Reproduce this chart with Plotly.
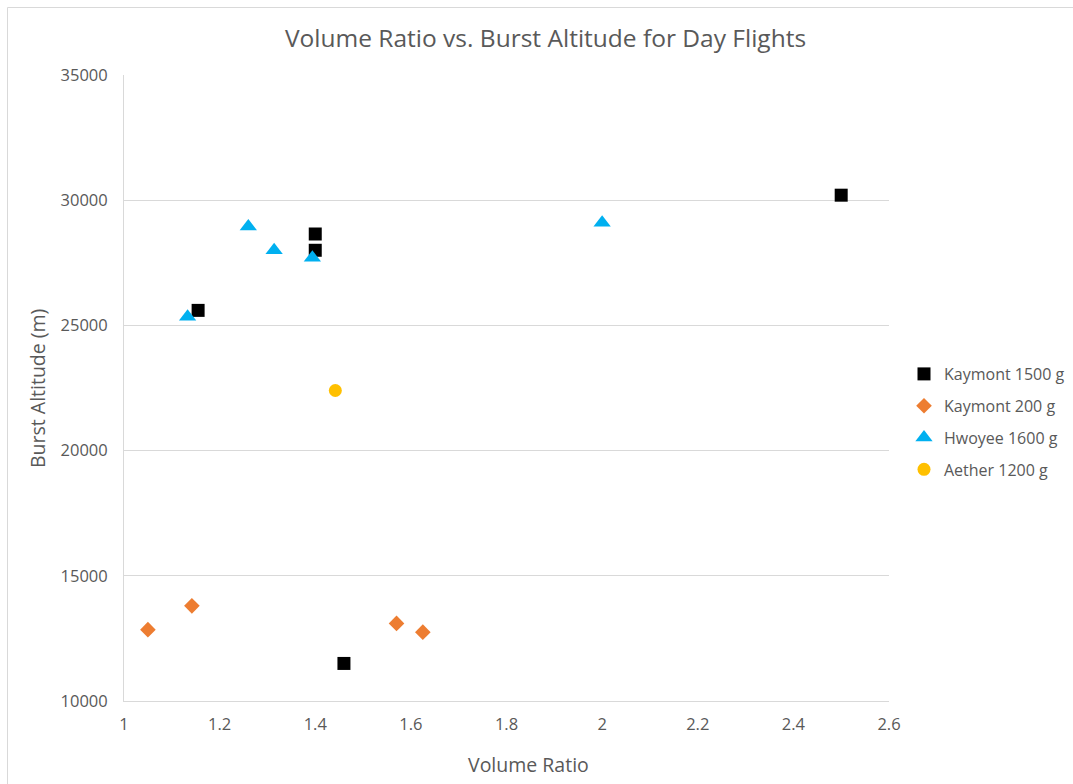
import plotly.graph_objects as go

# Series data: volume ratio (x) and burst altitude in metres (y)
kaymont1500_x = [1.155, 1.40, 1.40, 1.46, 2.50]
kaymont1500_y = [25600, 28650, 28000, 11500, 30200]

kaymont200_x = [1.05, 1.142, 1.57, 1.625]
kaymont200_y = [12850, 13800, 13100, 12750]

hwoyee1600_x = [1.133, 1.26, 1.314, 1.394, 2.00]
hwoyee1600_y = [25350, 28950, 28000, 27700, 29100]

aether1200_x = [1.442]
aether1200_y = [22400]

x_ticks = [1, 1.2, 1.4, 1.6, 1.8, 2, 2.2, 2.4, 2.6]
x_tick_labels = ["1", "1.2", "1.4", "1.6", "1.8", "2", "2.2", "2.4", "2.6"]
y_ticks = [10000, 15000, 20000, 25000, 30000, 35000]
y_tick_labels = ["10000", "15000", "20000", "25000", "30000", "35000"]

FONT = "Open Sans"
TEXT = "#595959"
GRID = "#d9d9d9"

W, H = 1073, 784
L, R, T, B = 124, 1073 - 889, 75, 784 - 701
PW, PH = W - L - R, H - T - B


def px_x(p):
    return (p - L) / PW


def px_y(p):
    return (H - B - p) / PH


fig = go.Figure()

series = [
    ("Kaymont 1500 g", kaymont1500_x, kaymont1500_y, "square", "#000000", 13),
    ("Kaymont 200 g", kaymont200_x, kaymont200_y, "diamond", "#ED7D31", 12),
    ("Hwoyee 1600 g", hwoyee1600_x, hwoyee1600_y, "triangle-up", "#00B0F0", 15),
    ("Aether 1200 g", aether1200_x, aether1200_y, "circle", "#FFC000", 13),
]
for i, (name, xs, ys, sym, col, size) in enumerate(series):
    fig.add_trace(go.Scatter(
        x=xs, y=ys, mode="markers", name=name, legendgroup=f"g{i}",
        marker=dict(symbol=sym, color=col, size=size, line=dict(width=0)),
    ))

fig.update_layout(
    width=W, height=H,
    margin=dict(l=L, r=R, t=T, b=B, autoexpand=False),
    paper_bgcolor="white", plot_bgcolor="white",
    font=dict(family=FONT, color=TEXT, size=16),
    showlegend=True,
    legend=dict(
        x=px_x(904), y=px_y(357), xanchor="left", yanchor="top",
        font=dict(family=FONT, size=16, color=TEXT),
        traceorder="grouped", tracegroupgap=8,
        itemwidth=30, bgcolor="rgba(0,0,0,0)",
    ),
    xaxis=dict(
        range=[1, 2.6], tickvals=x_ticks, ticktext=x_tick_labels,
        showgrid=False, zeroline=False,
        showline=True, linecolor=GRID, linewidth=1,
        ticks="", ticklabelstandoff=8,
        tickfont=dict(family=FONT, size=16.5, color=TEXT),
    ),
    yaxis=dict(
        range=[10000, 35000], tickvals=y_ticks, ticktext=y_tick_labels,
        showgrid=True, gridcolor=GRID, gridwidth=1, zeroline=False,
        showline=True, linecolor=GRID, linewidth=1,
        ticks="", ticklabelstandoff=12,
        tickfont=dict(family=FONT, size=16.5, color=TEXT),
    ),
    annotations=[
        dict(text="Volume Ratio vs. Burst Altitude for Day Flights",
             xref="paper", yref="paper", x=px_x(545), y=px_y(38),
             xanchor="center", yanchor="middle", showarrow=False,
             font=dict(family=FONT, size=24.5, color=TEXT)),
        dict(text="Volume Ratio",
             xref="paper", yref="paper", x=px_x(528), y=px_y(764),
             xanchor="center", yanchor="middle", showarrow=False,
             font=dict(family=FONT, size=19.5, color=TEXT)),
        dict(text="Burst Altitude (m)", textangle=-90,
             xref="paper", yref="paper", x=px_x(37), y=px_y(389),
             xanchor="center", yanchor="middle", showarrow=False,
             font=dict(family=FONT, size=19.5, color=TEXT)),
    ],
    shapes=[
        dict(type="rect", xref="paper", yref="paper",
             x0=px_x(7.5), x1=px_x(1090), y0=px_y(800), y1=px_y(7.5),
             line=dict(color=GRID, width=1), fillcolor="rgba(0,0,0,0)",
             layer="below"),
    ],
)

fig.write_html("out.html")
